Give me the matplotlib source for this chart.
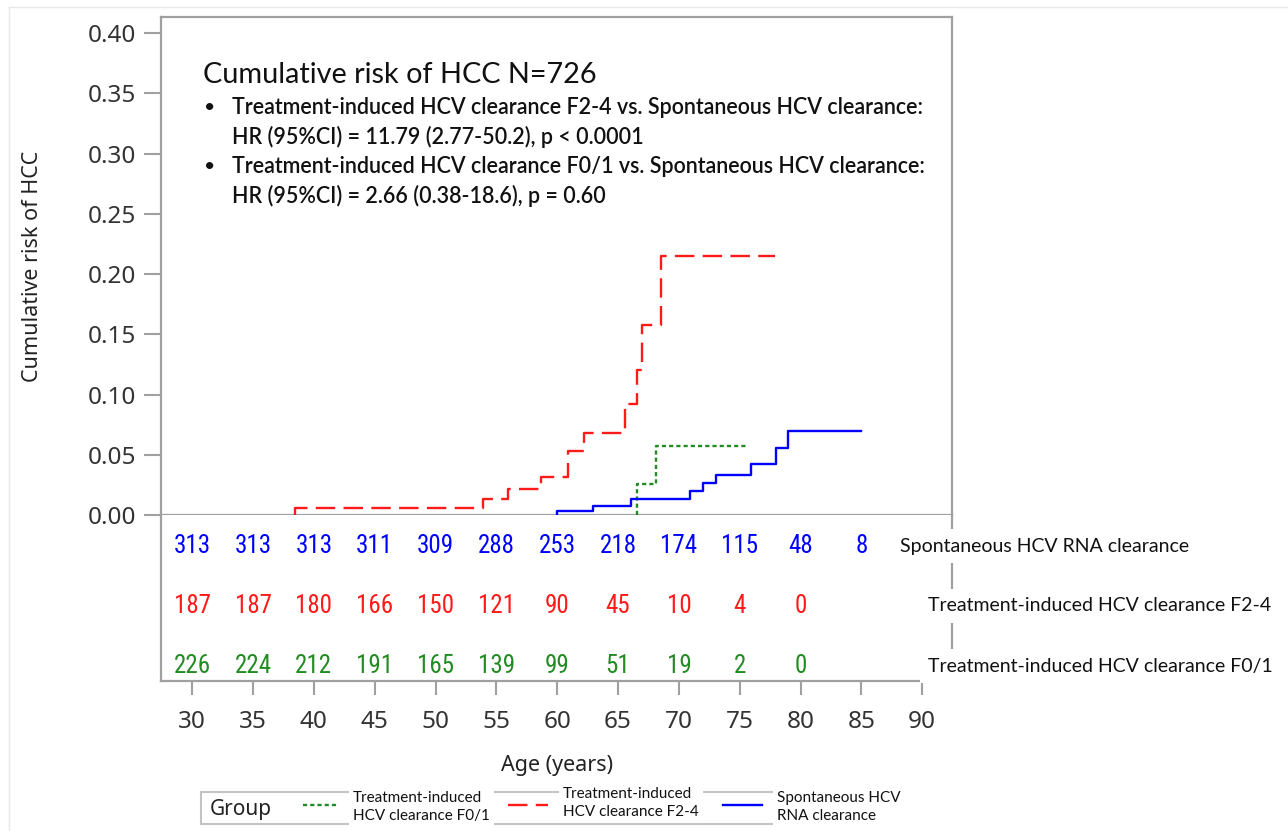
import matplotlib
matplotlib.use('Agg')
import matplotlib.pyplot as plt
from matplotlib import font_manager
from matplotlib.lines import Line2D
from matplotlib.patches import Rectangle

# pick fonts that exist in the sandbox
names = {f.name for f in font_manager.fontManager.ttflist}


def first_font(cands):
    for c in cands:
        if c in names:
            return c
    return 'DejaVu Sans'


TXT = first_font(['Lato'])
TICK = first_font(['Noto Sans'])
NARROW = first_font(['Liberation Sans Narrow', 'Roboto Condensed', 'Open Sans Condensed', 'Roboto'])
NARROW_SIZE = 18 if 'Narrow' in NARROW or 'Condensed' in NARROW else 16

plt.rcParams['lines.scale_dashes'] = False

# ---- data ----
# Kaplan-Meier style cumulative risk curves (age, risk)
f24_age = [38.45, 38.45, 53.88, 55.94, 58.68, 60.92, 62.21, 65.58, 66.55, 66.96, 68.54, 77.92]
f24_risk = [0.0, 0.0055, 0.013, 0.0213, 0.0313, 0.0534, 0.0683, 0.0921, 0.120, 0.158, 0.215, 0.215]
spont_age = [59.97, 59.97, 62.93, 66.05, 70.93, 72.02, 73.04, 75.92, 78.0, 78.96, 84.97]
spont_risk = [0.0, 0.0033, 0.0075, 0.013, 0.0199, 0.0263, 0.0332, 0.0423, 0.0553, 0.0697, 0.0697]
f01_age = [66.55, 66.55, 68.13, 75.53]
f01_risk = [0.0, 0.0257, 0.0573, 0.0573]

# numbers at risk
risk_ages = [30, 35, 40, 45, 50, 55, 60, 65, 70, 75, 80, 85]
n_spont = [313, 313, 313, 311, 309, 288, 253, 218, 174, 115, 48, 8]
n_f24 = [187, 187, 180, 166, 150, 121, 90, 45, 10, 4, 0]
n_f01 = [226, 224, 212, 191, 165, 139, 99, 51, 19, 2, 0]

yticks = [0.0, 0.05, 0.10, 0.15, 0.20, 0.25, 0.30, 0.35, 0.40]
xticks = [30, 35, 40, 45, 50, 55, 60, 65, 70, 75, 80, 85, 90]

BLUE = '#0000ff'
RED = '#ff1a1a'
GREEN = '#228b22'
SPINE = '#a0a0a0'

W, H = 1288, 831
fig = plt.figure(figsize=(W / 100, H / 100), dpi=100)


def fx(x):
    return x / W


def fy(y):
    return 1 - y / H


# faint outer border
fig.add_artist(Line2D([fx(9), 1], [fy(7), fy(7)], color='#e8e8e8', lw=1))
fig.add_artist(Line2D([fx(9), fx(9)], [fy(7), 0], color='#e8e8e8', lw=1))

# ---- upper panel: curves ----
ax = fig.add_axes([fx(161), fy(515), (952 - 161) / W, (515 - 17) / H])
ax.set_xlim(27.43, 92.45)
ax.set_ylim(0, 0.4135)
ax.step(f24_age, f24_risk, where='post', color=RED, lw=1.7, dashes=(14, 6), zorder=3)
ax.step(f01_age, f01_risk, where='post', color=GREEN, lw=1.7, dashes=(3, 2.2), zorder=3)
ax.step(spont_age, spont_risk, where='post', color=BLUE, lw=1.7, zorder=3)
ax.set_yticks(yticks)
ax.set_yticklabels(['%.2f' % v for v in yticks], fontsize=17.5, color='#333333', family=TICK)
ax.set_xticks([])
ax.tick_params(axis='y', length=12, width=1.5, color=SPINE, pad=6)
for s in ax.spines.values():
    s.set_color(SPINE)
    s.set_linewidth(1.6)

# ---- lower panel: numbers at risk ----
axb = fig.add_axes([fx(161), fy(681), (952 - 161) / W, (681 - 515) / H])
axb.set_xlim(27.43, 92.45)
axb.set_ylim(0, 1)
axb.spines['top'].set_visible(False)
for s in ['left', 'bottom', 'right']:
    axb.spines[s].set_color(SPINE)
    axb.spines[s].set_linewidth(1.6)
axb.set_yticks([])
axb.set_xticks(xticks)
axb.set_xticklabels([str(v) for v in xticks], fontsize=17.5, color='#333333', family=TICK)
axb.tick_params(axis='x', length=10, width=1.5, color=SPINE, pad=11)

rows = [(n_spont, BLUE, 0.813, 'Spontaneous HCV RNA clearance', 900),
        (n_f24, RED, 0.452, 'Treatment-induced HCV clearance F2-4', 928),
        (n_f01, GREEN, 0.09, 'Treatment-induced HCV clearance F0/1', 928)]
for counts, col, yy, lab, lx in rows:
    for a, n in zip(risk_ages, counts):
        axb.text(a, yy, str(n), color=col, ha='center', va='center',
                 fontsize=NARROW_SIZE, family=NARROW)
    fig.text(fx(lx), fy(681 - yy * 166), lab, ha='left', va='center', fontsize=14,
             family=TXT, color='#111111',
             bbox=dict(facecolor='white', edgecolor='none', pad=6))

# axis labels
fig.text(fx(33), fy(266), 'Cumulative risk of HCC', rotation=90, ha='center', va='center',
         fontsize=15.5, family=TICK, color='#222222')
fig.text(fx(557), fy(766), 'Age (years)', ha='center', va='center',
         fontsize=15.5, family=TICK, color='#222222')

# annotation block
fig.text(fx(203), fy(75), 'Cumulative risk of HCC N=726', ha='left', va='center',
         fontsize=20.8, family=TXT, color='#111111')
lines = [('\u2022', 'Treatment-induced HCV clearance F2-4 vs. Spontaneous HCV clearance:'),
         ('', 'HR (95%CI) = 11.79 (2.77-50.2), p < 0.0001'),
         ('\u2022', 'Treatment-induced HCV clearance F0/1 vs. Spontaneous HCV clearance:'),
         ('', 'HR (95%CI) = 2.66 (0.38-18.6), p = 0.60')]
for i, (b, t) in enumerate(lines):
    yy = 107 + i * 29.7
    if b:
        fig.text(fx(204), fy(yy), b, ha='left', va='center', fontsize=14, family=TXT, color='#111111')
    fig.text(fx(232), fy(yy), t, ha='left', va='center', fontsize=15.5, family=TXT,
             color='#111111', fontweight='semibold')

# ---- legend ----
fig.add_artist(Rectangle((fx(201), fy(824)), (893 - 201) / W, (824 - 792) / H,
                         transform=fig.transFigure, facecolor='none', edgecolor='#c4c4c4', lw=1.5))
fig.text(fx(210), fy(809), 'Group', ha='left', va='center', fontsize=15, family=TICK, color='#222222')
legend_items = [(GREEN, (3, 2.2), 303, 338, 'Treatment-induced\nHCV clearance F0/1', 353, 807),
                (RED, (14, 6), 508, 548, 'Treatment-induced\nHCV clearance F2-4', 563, 803),
                (BLUE, None, 723, 762, 'Spontaneous HCV\nRNA clearance', 777, 807)]
for col, dash, x0, x1, lab, lx, ly in legend_items:
    ln = Line2D([fx(x0), fx(x1)], [fy(804.5), fy(804.5)], color=col, lw=1.7)
    if dash:
        ln.set_dashes(dash)
    fig.add_artist(ln)
    fig.text(fx(lx), fy(ly), lab, ha='left', va='center', fontsize=11, family=TXT,
             color='#111111', linespacing=1.3,
             bbox=dict(facecolor='white', edgecolor='none', pad=3))

fig.savefig('out.png', dpi=100)
